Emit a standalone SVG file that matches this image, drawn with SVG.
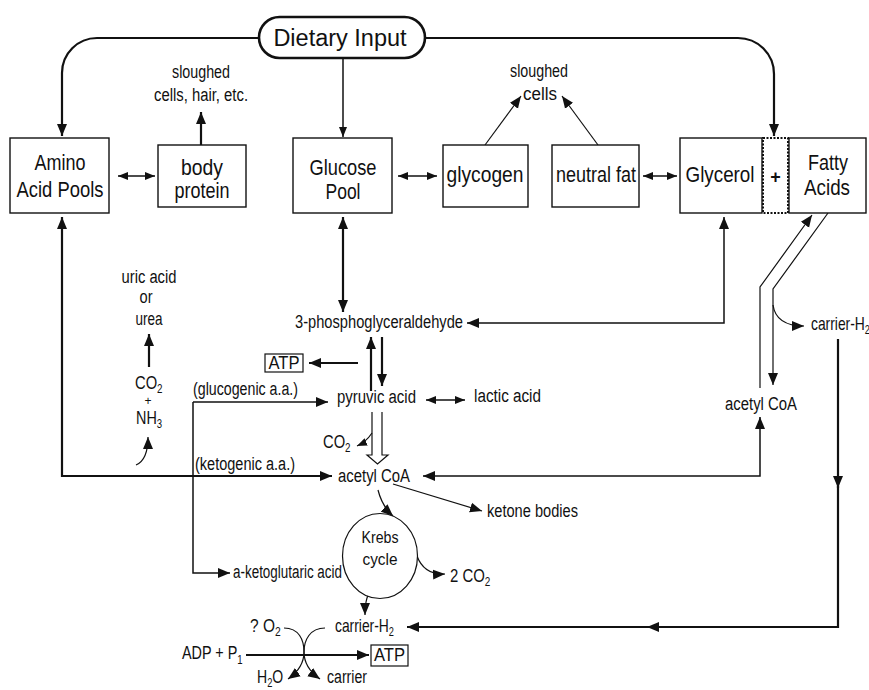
<svg xmlns="http://www.w3.org/2000/svg" width="869" height="690" viewBox="0 0 869 690">
<defs>
<style>
text{font-family:"Liberation Sans",Arial,sans-serif;fill:#111}
.t{font-size:18px}
.b{font-size:22px;text-anchor:middle}
.m{text-anchor:middle}
.s{font-size:12px}
.box{fill:#fff;stroke:#111;stroke-width:1.4}
.ln{fill:none;stroke:#111;stroke-width:1.5}
.tk{fill:none;stroke:#111;stroke-width:2.2}
.th{fill:none;stroke:#111;stroke-width:1.2}
</style>
<marker id="a" viewBox="0 0 12 10" refX="12" refY="5" markerWidth="12" markerHeight="11" markerUnits="userSpaceOnUse" orient="auto-start-reverse"><path d="M0,0L12,5L0,10z" fill="#111"/></marker>
<marker id="sm" viewBox="0 0 10 8" refX="10" refY="4" markerWidth="10" markerHeight="8" markerUnits="userSpaceOnUse" orient="auto-start-reverse"><path d="M0,0L10,4L0,8z" fill="#111"/></marker>
</defs>

<g id="connectors">
<path class="tk" d="M259,38H97A35,35 0 0 0 62,73V136" marker-end="url(#a)"/>
<path class="tk" d="M425,38H738A36,36 0 0 1 774,74V136" marker-end="url(#a)"/>
<path class="ln" d="M343,58V137" marker-end="url(#sm)"/>
<path class="ln" d="M118,176H155" marker-start="url(#sm)" marker-end="url(#sm)"/>
<path class="tk" d="M201,145V112" marker-end="url(#a)"/>
<path class="ln" d="M398,176H437" marker-start="url(#sm)" marker-end="url(#sm)"/>
<path class="th" d="M485,145L521,96" marker-end="url(#a)"/>
<path class="th" d="M598,145L562,96" marker-end="url(#a)"/>
<path class="ln" d="M643,176H677" marker-start="url(#sm)" marker-end="url(#sm)"/>
<path class="tk" d="M62,217V476H332" marker-start="url(#a)" marker-end="url(#a)"/>
<path class="tk" d="M343,217V312" marker-start="url(#a)" marker-end="url(#a)"/>
<path class="ln" d="M724,217V323H467" marker-start="url(#a)" marker-end="url(#a)"/>
<path class="tk" d="M371,391V337" stroke-width="3" marker-end="url(#a)"/>
<path class="tk" d="M382,337V386" marker-end="url(#a)"/>
<path class="tk" d="M358,363H309" marker-end="url(#a)"/>
<path class="tk" d="M149,367V334" marker-end="url(#a)"/>
<path class="th" d="M136,465Q148,460 148,437" marker-end="url(#a)"/>
<path class="ln" d="M193,402H328" marker-end="url(#a)"/>
<path class="ln" d="M193,402V573H230" marker-end="url(#a)"/>
<path class="ln" d="M426,400H465" marker-start="url(#sm)" marker-end="url(#sm)"/>
<path d="M372,412V455H367L377.5,464L388,455H382V412" fill="#fff" stroke="#111" stroke-width="1.2"/>
<path class="th" d="M372,433Q366,442 357,446" marker-end="url(#sm)"/>
<path class="ln" d="M760,417V476H423" marker-start="url(#a)" marker-end="url(#a)"/>
<path class="th" d="M760,388V287L812,215" marker-end="url(#a)"/>
<path class="th" d="M828,213L773,289V385" stroke-width="1.5" marker-end="url(#a)"/>
<path class="th" d="M773,305Q776,326 804,326" marker-end="url(#a)"/>
<path class="tk" d="M838,339V488" marker-end="url(#a)"/>
<path class="tk" d="M838,486V627H647" marker-end="url(#a)"/>
<path class="tk" d="M649,627H407" marker-end="url(#a)"/>
<path class="th" d="M393,484L482,511" marker-end="url(#a)"/>
<path class="th" d="M378,490Q382,506 393,516" marker-end="url(#a)"/>
<path class="th" d="M417,556Q424,575 445,574" marker-end="url(#a)"/>
<path class="th" d="M373,589Q365,594 365,615" marker-end="url(#a)"/>
<path class="tk" d="M246,655H369" marker-end="url(#a)"/>
<path class="th" d="M284,628C299,628 304,640 304,652C304,664 298,672 288,679" marker-end="url(#a)"/>
<path class="th" d="M325,628C310,628 304,640 304,652C304,664 310,672 320,679" marker-end="url(#a)"/>
</g>

<g id="dietary-input">
<rect x="259" y="17" width="166" height="41" rx="20.5" fill="#fff" stroke="#111" stroke-width="2.6"/>
<text x="340" y="46" style="font-size:23.5px" class="m">Dietary Input</text>
</g>
<g id="amino-acid-pools">
<rect class="box" x="10" y="138" width="99" height="75"/>
<text class="b" x="60" y="170" textLength="51" lengthAdjust="spacingAndGlyphs">Amino</text>
<text class="b" x="60" y="197" textLength="87" lengthAdjust="spacingAndGlyphs">Acid Pools</text>
</g>
<g id="body-protein">
<rect class="box" x="158" y="145" width="88" height="62"/>
<text class="b" x="202" y="175" textLength="42" lengthAdjust="spacingAndGlyphs">body</text>
<text class="b" x="202" y="198" textLength="55" lengthAdjust="spacingAndGlyphs">protein</text>
</g>
<g id="sloughed-1">
<text class="t m" x="201" y="78" textLength="58" lengthAdjust="spacingAndGlyphs">sloughed</text>
<text class="t m" x="201" y="101" textLength="94" lengthAdjust="spacingAndGlyphs">cells, hair, etc.</text>
</g>
<g id="glucose-pool">
<rect class="box" x="293" y="138" width="99" height="75"/>
<text class="b" x="343" y="175" textLength="67" lengthAdjust="spacingAndGlyphs">Glucose</text>
<text class="b" x="343" y="199" textLength="35" lengthAdjust="spacingAndGlyphs">Pool</text>
</g>
<g id="glycogen">
<rect class="box" x="443" y="145" width="85" height="62"/>
<text class="b" x="485" y="182" textLength="77" lengthAdjust="spacingAndGlyphs">glycogen</text>
</g>
<g id="sloughed-2">
<text class="t m" x="539" y="77" textLength="58" lengthAdjust="spacingAndGlyphs">sloughed</text>
<text class="t m" x="540" y="100" textLength="34" lengthAdjust="spacingAndGlyphs">cells</text>
</g>
<g id="neutral-fat">
<rect class="box" x="552" y="145" width="87" height="62"/>
<text class="b" x="596" y="182" textLength="80" lengthAdjust="spacingAndGlyphs">neutral fat</text>
</g>
<g id="glycerol">
<rect class="box" x="680" y="138" width="82" height="75"/>
<text class="b" x="720" y="182" textLength="69" lengthAdjust="spacingAndGlyphs">Glycerol</text>
</g>
<g id="plus">
<rect x="763" y="138" width="25" height="75" fill="#fff" stroke="#111" stroke-width="2" stroke-dasharray="2,1.5"/>
<text x="775.5" y="183" style="font-size:18px;font-weight:bold" class="m">+</text>
</g>
<g id="fatty-acids">
<rect class="box" x="789" y="138" width="77" height="75"/>
<text class="b" x="828" y="170" textLength="40" lengthAdjust="spacingAndGlyphs">Fatty</text>
<text class="b" x="827" y="195" textLength="46" lengthAdjust="spacingAndGlyphs">Acids</text>
</g>
<g id="urea">
<text class="t m" x="149" y="283" textLength="55" lengthAdjust="spacingAndGlyphs">uric acid</text>
<text class="t m" x="146" y="303" textLength="13" lengthAdjust="spacingAndGlyphs">or</text>
<text class="t m" x="149" y="325" textLength="27" lengthAdjust="spacingAndGlyphs">urea</text>
<text class="t" transform="translate(135,389) scale(0.82,1)">CO<tspan class="s" dy="4">2</tspan></text>
<text class="m" x="148" y="405" style="font-size:12px">+</text>
<text class="t" transform="translate(136,424) scale(0.8,1)">NH<tspan class="s" dy="4">3</tspan></text>
</g>
<g id="pga"><text class="t m" x="379" y="328" textLength="168" lengthAdjust="spacingAndGlyphs">3-phosphoglyceraldehyde</text></g>
<g id="atp-1">
<rect x="265" y="354" width="38" height="18" fill="#fff" stroke="#111" stroke-width="1.2"/>
<text class="t m" x="284" y="369" textLength="31" lengthAdjust="spacingAndGlyphs">ATP</text>
</g>
<g id="glucogenic"><text class="t" x="193" y="395" textLength="105" lengthAdjust="spacingAndGlyphs">(glucogenic a.a.)</text></g>
<g id="pyruvic"><text class="t" x="337" y="403" textLength="79" lengthAdjust="spacingAndGlyphs">pyruvic acid</text></g>
<g id="lactic"><text class="t" x="474" y="402" textLength="67" lengthAdjust="spacingAndGlyphs">lactic acid</text></g>
<g id="co2-a"><text class="t" transform="translate(323,448) scale(0.82,1)">CO<tspan class="s" dy="4">2</tspan></text></g>
<g id="ketogenic"><text class="t" x="195" y="470" textLength="100" lengthAdjust="spacingAndGlyphs">(ketogenic a.a.)</text></g>
<g id="acetyl-coa"><text class="t" x="338" y="482" textLength="72" lengthAdjust="spacingAndGlyphs">acetyl CoA</text></g>
<g id="acetyl-coa-2"><text class="t" x="725" y="410" textLength="72" lengthAdjust="spacingAndGlyphs">acetyl CoA</text></g>
<g id="carrier-h2-a"><text class="t" transform="translate(811,330) scale(0.77,1)">carrier-H<tspan class="s" dy="4">2</tspan></text></g>
<g id="ketone"><text class="t" x="487" y="517" textLength="91" lengthAdjust="spacingAndGlyphs">ketone bodies</text></g>
<g id="krebs">
<ellipse cx="380" cy="556" rx="37.5" ry="42.5" fill="#fff" stroke="#111" stroke-width="1.2"/>
<text class="m" x="380" y="543" style="font-size:16px" textLength="37" lengthAdjust="spacingAndGlyphs">Krebs</text>
<text class="m" x="380" y="565" style="font-size:16px" textLength="35" lengthAdjust="spacingAndGlyphs">cycle</text>
</g>
<g id="co2-b"><text class="t" transform="translate(450,582) scale(0.83,1)">2 CO<tspan class="s" dy="4">2</tspan></text></g>
<g id="aketo"><text class="t" x="233" y="578" textLength="109" lengthAdjust="spacingAndGlyphs">a-ketoglutaric acid</text></g>
<g id="carrier-h2-b"><text class="t" transform="translate(335,632) scale(0.77,1)">carrier-H<tspan class="s" dy="4">2</tspan></text></g>
<g id="o2"><text class="t" transform="translate(250,632) scale(0.86,1)">? O<tspan class="s" dy="4">2</tspan></text></g>
<g id="adp"><text class="t" transform="translate(182,659) scale(0.8,1)">ADP + P<tspan class="s" dy="5">1</tspan></text></g>
<g id="atp-2">
<rect x="371" y="645" width="37" height="21" fill="#fff" stroke="#111" stroke-width="1.2"/>
<text class="t m" x="389.5" y="661" textLength="31" lengthAdjust="spacingAndGlyphs">ATP</text>
</g>
<g id="h2o"><text class="t" transform="translate(257,683) scale(0.78,1)">H<tspan class="s" dy="4">2</tspan><tspan dy="-4">O</tspan></text></g>
<g id="carrier"><text class="t" x="327" y="683" textLength="40" lengthAdjust="spacingAndGlyphs">carrier</text></g>
</svg>
